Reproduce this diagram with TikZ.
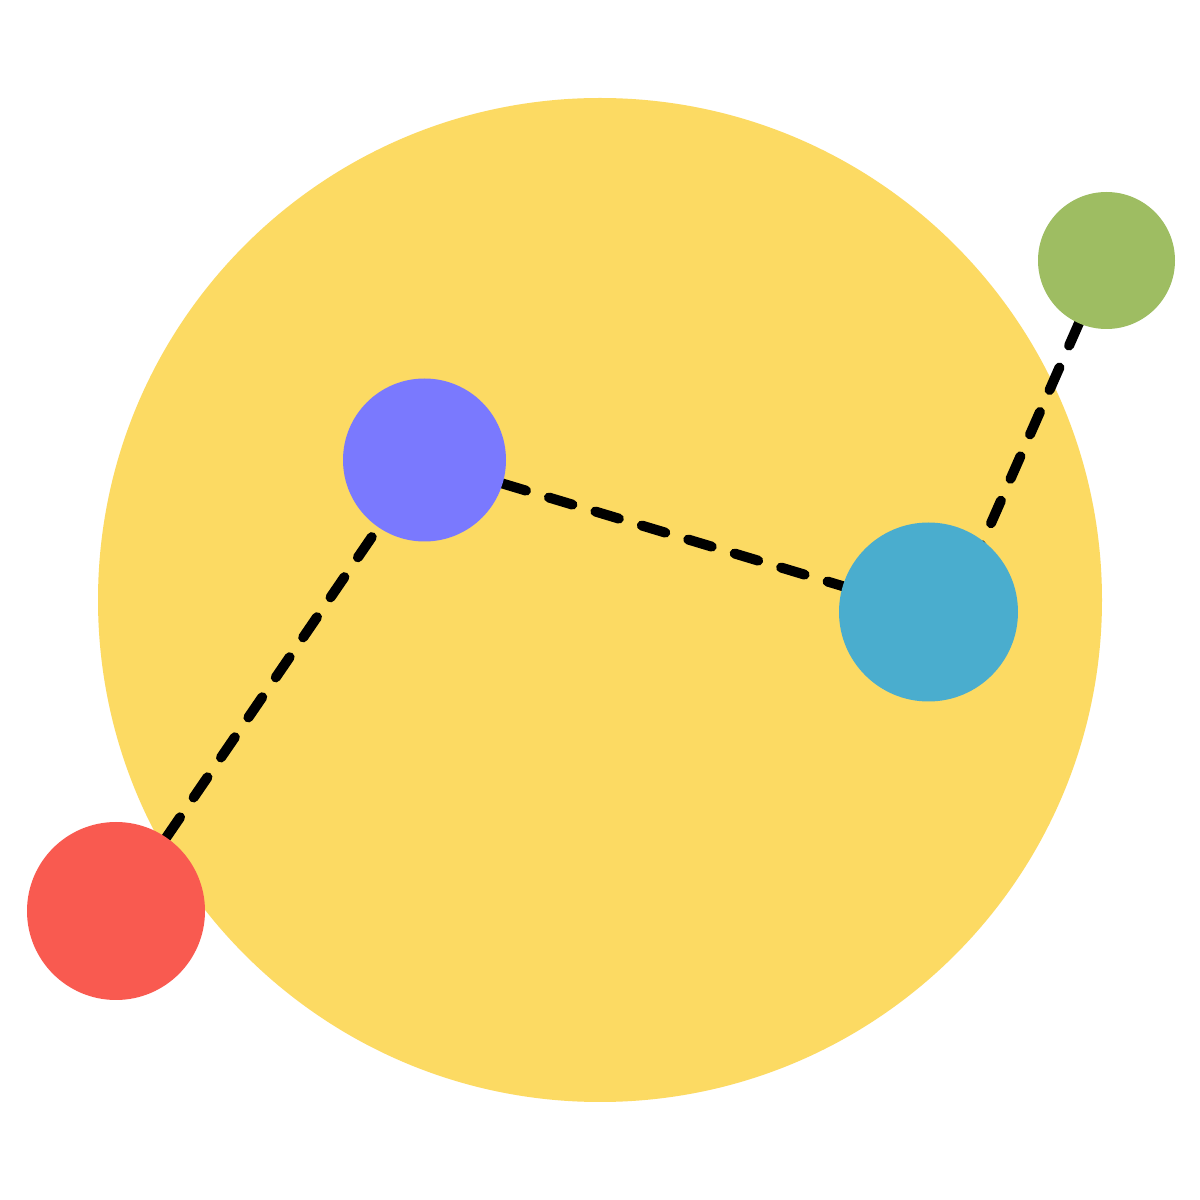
\documentclass[tikz,border=0pt]{standalone}
\usetikzlibrary{backgrounds}
\definecolor{sunyellow}{HTML}{FCDA63}
\definecolor{dotred}{HTML}{F95A50}
\definecolor{dotpurple}{HTML}{7A79FE}
\definecolor{dotcyan}{HTML}{4AADCE}
\definecolor{dotgreen}{HTML}{9EBD62}
\tikzset{
  dot/.style={circle, inner sep=0pt, outer sep=0pt, draw=none},
  link/.style={black, line width=0.10cm, line cap=round, dash pattern=on 0.245cm off 0.24cm}
}
\begin{document}
\begin{tikzpicture}
\useasboundingbox (0,0) rectangle (12,12);
\node[dot, fill=dotred, minimum size=1.78cm] (red) at (1.16,2.89) {};
\node[dot, fill=dotpurple, minimum size=1.63cm] (purple) at (4.245,7.40) {};
\node[dot, fill=dotcyan, minimum size=1.79cm] (cyan) at (9.285,5.88) {};
\node[dot, fill=dotgreen, minimum size=1.37cm] (green) at (11.065,9.395) {};
\coordinate (cyanstart) at (9.52,5.88);
\begin{scope}[on background layer]
  \fill[white] (0,0) rectangle (12,12);
  \node[dot, fill=sunyellow, minimum size=10.04cm] (sun) at (6,6) {};
  \draw[link] (red) -- (purple);
  \draw[link] (purple) -- (cyan);
  \draw[link] (cyanstart) -- (green);
\end{scope}
\end{tikzpicture}
\end{document}
